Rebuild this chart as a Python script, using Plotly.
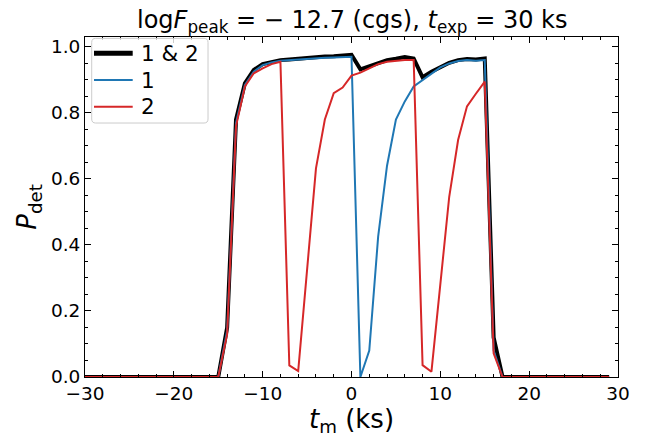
import plotly.graph_objects as go

t_m = [-30, -29, -28, -27, -26, -25, -24, -23, -22, -21, -20, -19, -18, -17, -16, -15,
       -14, -13, -12, -11, -10, -9, -8, -7, -6, -5, -4, -3, -2, -1,
       0, 1, 2, 3, 4, 5, 6, 7, 8, 9, 10, 11, 12, 13, 14, 15, 16,
       17, 18, 19, 20, 21, 22, 23, 24, 25, 26, 27, 28, 29]

p_both = [0, 0, 0, 0, 0, 0, 0, 0, 0, 0, 0, 0, 0, 0, 0, 0,
          0.15, 0.78, 0.89, 0.93, 0.948, 0.955, 0.96, 0.962, 0.965, 0.968, 0.97, 0.971, 0.972, 0.974,
          0.976, 0.932, 0.942, 0.953, 0.96, 0.964, 0.969, 0.965, 0.908, 0.925, 0.94, 0.952, 0.96, 0.963, 0.962, 0.965, 0.12,
          0, 0, 0, 0, 0, 0, 0, 0, 0, 0, 0, 0, 0]

p_1 = [0, 0, 0, 0, 0, 0, 0, 0, 0, 0, 0, 0, 0, 0, 0, 0,
       0.14, 0.77, 0.885, 0.925, 0.945, 0.953, 0.958, 0.96, 0.962, 0.965, 0.966, 0.967, 0.968, 0.969,
       0.97, 0.0, 0.08, 0.425, 0.64, 0.78, 0.835, 0.88, 0.9, 0.92, 0.938, 0.95, 0.957, 0.96, 0.958, 0.96, 0.08,
       0, 0, 0, 0, 0, 0, 0, 0, 0, 0, 0, 0, 0]

p_2 = [0, 0, 0, 0, 0, 0, 0, 0, 0, 0, 0, 0, 0, 0, 0, 0,
       0.13, 0.76, 0.88, 0.92, 0.935, 0.948, 0.955, 0.035, 0.018, 0.32, 0.632, 0.78, 0.86, 0.877,
       0.913, 0.922, 0.935, 0.948, 0.955, 0.958, 0.96, 0.96, 0.036, 0.016, 0.28, 0.546, 0.718, 0.82, 0.858, 0.895, 0.072,
       0, 0, 0, 0, 0, 0, 0, 0, 0, 0, 0, 0, 0]

series_names = ["1 & 2", "1", "2"]
series_colors = ["black", "#1f77b4", "#d62728"]
series_widths = [4, 2, 2]

x_ticks = [-30, -20, -10, 0, 10, 20, 30]
x_tick_labels = ["\u221230", "\u221220", "\u221210", "0", "10", "20", "30"]
y_ticks = [0.0, 0.2, 0.4, 0.6, 0.8, 1.0]
y_tick_labels = ["0.0", "0.2", "0.4", "0.6", "0.8", "1.0"]

fig = go.Figure()
for name, ys, col, w in zip(series_names, [p_both, p_1, p_2], series_colors, series_widths):
    fig.add_trace(go.Scatter(x=t_m, y=ys, mode="lines", name=name,
                             line=dict(color=col, width=w), showlegend=False))

font_family = "DejaVu Sans"
axis_common = dict(
    showgrid=False, zeroline=False, showline=True, linecolor="black", linewidth=1,
    mirror="allticks", ticks="inside", ticklen=6, tickwidth=1, tickcolor="black",
    tickfont=dict(size=18.5, color="black", family=font_family),
    automargin=False,
)

fig.update_xaxes(range=[-30, 30], tickvals=x_ticks, ticktext=x_tick_labels,
                 minor=dict(dtick=2, ticks="inside", ticklen=3, tickcolor="black", showgrid=False),
                 title=dict(text="<i>t</i><sub>m</sub> (ks)", font=dict(size=26, color="black", family=font_family), standoff=4),
                 **axis_common)
fig.update_yaxes(range=[0, 1.03], tickvals=y_ticks, ticktext=y_tick_labels,
                 minor=dict(dtick=0.05, ticks="inside", ticklen=3, tickcolor="black", showgrid=False),
                 title=dict(text="<i>P</i><sub>det</sub>", font=dict(size=26, color="black", family=font_family), standoff=6),
                 **axis_common)

# page body has an 8px default margin, so the figure is sized 8px smaller
fig.update_layout(
    width=646, height=429,
    margin=dict(l=77, r=36, t=29, b=60),
    plot_bgcolor="white", paper_bgcolor="white",
    showlegend=False,
)

fig.add_annotation(
    text="log<i>F</i><sub>peak</sub> = \u2212 12.7 (cgs), <i>t</i><sub>exp</sub> = 30 ks",
    xref="paper", yref="paper", x=0.5, y=1.045, xanchor="center", yanchor="middle",
    showarrow=False, font=dict(size=24, color="black", family=font_family),
)

# hand-drawn legend box (rounded), matching matplotlib's legend
bx0, bx1, by0, by1 = 0.0126, 0.2308, 0.747, 0.996
rx, ry = 0.0075, 0.0118
box_path = (f"M {bx0+rx},{by1} L {bx1-rx},{by1} Q {bx1},{by1} {bx1},{by1-ry} "
            f"L {bx1},{by0+ry} Q {bx1},{by0} {bx1-rx},{by0} "
            f"L {bx0+rx},{by0} Q {bx0},{by0} {bx0},{by0+ry} "
            f"L {bx0},{by1-ry} Q {bx0},{by1} {bx0+rx},{by1} Z")
fig.add_shape(type="path", path=box_path, xref="paper", yref="paper",
              fillcolor="rgba(255,255,255,0.8)", line=dict(color="#cccccc", width=1), layer="above")

legend_rows = [0.952, 0.8735, 0.795]
for name, col, w, yy in zip(series_names, series_colors, series_widths, legend_rows):
    fig.add_shape(type="line", xref="paper", yref="paper", x0=0.0169, x1=0.0895, y0=yy, y1=yy,
                  line=dict(color=col, width=w + 1 if w > 2 else w), layer="above")
    fig.add_annotation(text=name, xref="paper", yref="paper", x=0.1019, y=yy,
                       xanchor="left", yanchor="middle", showarrow=False,
                       font=dict(size=21.5, color="black", family=font_family))

fig.write_html("out.html")
